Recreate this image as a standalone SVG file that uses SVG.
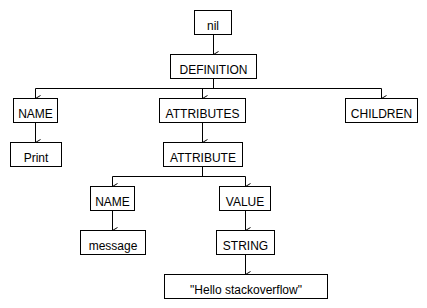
<svg xmlns="http://www.w3.org/2000/svg" width="427" height="308" viewBox="0 0 427 308">
<style>
rect{fill:#fff;stroke:#000;stroke-width:1}
text{font-family:"Liberation Sans",Arial,sans-serif;font-size:12px;text-anchor:middle;fill:#000}
.c{fill:none;stroke:#000;stroke-width:1}
</style>
<defs>
<marker id="a" markerWidth="8" markerHeight="8" refX="4" refY="6" orient="auto" markerUnits="userSpaceOnUse" viewBox="0 0 8 8">
<path d="M1,1 L4,6 L7,1" fill="none" stroke="#000" stroke-width="1"/>
</marker>
</defs>
<rect x="0" y="0" width="427" height="308" style="stroke:none"/>
<g id="connectors">
<path class="c" d="M213.5,34.5 V54.5" marker-end="url(#a)"/>
<path class="c" d="M213.5,78.5 V88.5"/>
<path class="c" d="M35.5,88.5 H381.5"/>
<path class="c" d="M35.5,88.5 V98.5" marker-end="url(#a)"/>
<path class="c" d="M202.5,88.5 V98.5" marker-end="url(#a)"/>
<path class="c" d="M381.5,88.5 V98.5" marker-end="url(#a)"/>
<path class="c" d="M35.5,122.5 V142.5" marker-end="url(#a)"/>
<path class="c" d="M202.5,122.5 V142.5" marker-end="url(#a)"/>
<path class="c" d="M202.5,166.5 V176.5"/>
<path class="c" d="M112.5,176.5 H245.5"/>
<path class="c" d="M112.5,176.5 V186.5" marker-end="url(#a)"/>
<path class="c" d="M245.5,176.5 V186.5" marker-end="url(#a)"/>
<path class="c" d="M112.5,210.5 V230.5" marker-end="url(#a)"/>
<path class="c" d="M245.5,210.5 V230.5" marker-end="url(#a)"/>
<path class="c" d="M245.5,254.5 V274.5" marker-end="url(#a)"/>
</g>
<g id="nil"><rect x="194.5" y="10.5" width="37" height="24"/><text x="213" y="30">nil</text></g>
<g id="definition"><rect x="170.5" y="54.5" width="86" height="24"/><text x="213.5" y="74">DEFINITION</text></g>
<g id="name1"><rect x="13.5" y="98.5" width="44" height="24"/><text x="35.5" y="118">NAME</text></g>
<g id="attributes"><rect x="159.5" y="98.5" width="86" height="24"/><text x="202.5" y="118">ATTRIBUTES</text></g>
<g id="children"><rect x="345.5" y="98.5" width="72" height="24"/><text x="381.5" y="118">CHILDREN</text></g>
<g id="print"><rect x="10.5" y="142.5" width="51" height="24"/><text x="36" y="162">Print</text></g>
<g id="attribute"><rect x="163.5" y="142.5" width="79" height="24"/><text x="203" y="162">ATTRIBUTE</text></g>
<g id="name2"><rect x="90.5" y="186.5" width="44" height="24"/><text x="112.5" y="206">NAME</text></g>
<g id="value"><rect x="219.5" y="186.5" width="51" height="24"/><text x="245" y="206">VALUE</text></g>
<g id="message"><rect x="80.5" y="230.5" width="65" height="24"/><text x="113" y="250">message</text></g>
<g id="string"><rect x="216.5" y="230.5" width="58" height="24"/><text x="245.5" y="250">STRING</text></g>
<g id="hello"><rect x="164.5" y="274.5" width="163" height="24"/><text x="246" y="294">"Hello stackoverflow"</text></g>
</svg>
